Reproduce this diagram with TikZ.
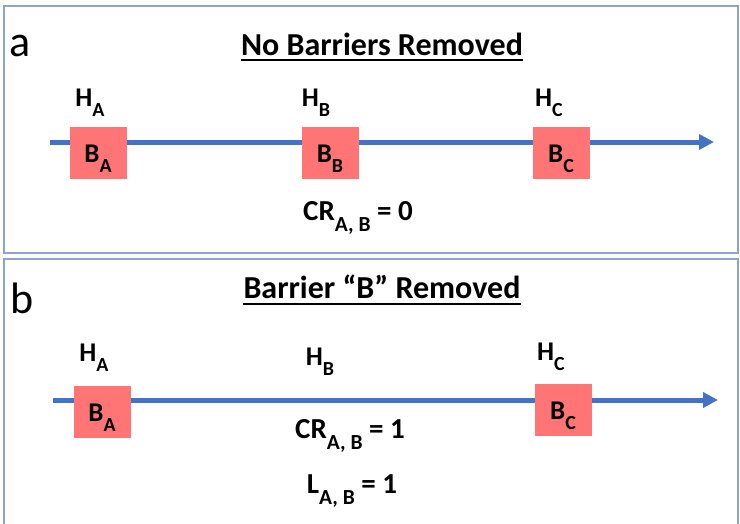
\documentclass[tikz,border=0pt]{standalone}
\usepackage{fontspec}
\usepackage{graphicx}
\setmainfont{Carlito}
\usetikzlibrary{arrows.meta}
\definecolor{lineblue}{HTML}{4472C4}
\definecolor{boxred}{HTML}{FF7575}
\definecolor{framecol}{HTML}{8FA2CB}
\newcommand{\sbx}[1]{\raisebox{-0.38em}{\scalebox{0.74}{#1}}}
\tikzset{
  frame/.style={draw=framecol, line width=1.2pt},
  panellabel/.style={inner sep=0pt, font=\fontsize{44}{48}\selectfont},
  titletext/.style={inner sep=0pt, font=\bfseries\fontsize{32}{36}\selectfont},
  hlabel/.style={inner sep=0pt, font=\bfseries\fontsize{27}{30}\selectfont},
  eqlabel/.style={inner sep=0pt, font=\bfseries\fontsize{29}{32}\selectfont},
  barrier/.style={fill=boxred, draw=none, minimum width=57pt, minimum height=52pt, inner sep=0pt},
  blabel/.style={inner sep=0pt, font=\bfseries\fontsize{27}{30}\selectfont},
  axis/.style={draw=lineblue, line width=5pt, -{Triangle[length=15pt,width=15pt]}},
  uline/.style={line width=1.6pt, black}
}
\begin{document}
\begin{tikzpicture}[x=1pt,y=-1pt]
\useasboundingbox (0,0) rectangle (740,523);
% ---------- panel a ----------
\draw[frame] (4,6) rectangle (738,253);
\node[panellabel] (pa) at (20,46) {a};
\node[titletext] (ta) at (382,44) {No Barriers Removed};
\draw[uline] ([yshift=-5pt]ta.base west) -- ([yshift=-5pt]ta.base east);
\coordinate (a0) at (50,142);
\coordinate (a1) at (714,142);
\draw[axis] (a0) -- (a1);
\node[barrier] (bxa) at (98,153) {};
\node[barrier] (bxb) at (330,153) {};
\node[barrier] (bxc) at (561,153) {};
\node[blabel] (lba) at (98,159) {B\sbx{A}};
\node[blabel] (lbb) at (330,159) {B\sbx{B}};
\node[blabel] (lbc) at (561,159) {B\sbx{C}};
\node[hlabel] (hA) at (90,103) {H\sbx{A}};
\node[hlabel] (hB) at (316,103) {H\sbx{B}};
\node[hlabel] (hC) at (549,103) {H\sbx{C}};
\node[eqlabel] (cra) at (358,218) {CR\sbx{A, B} = 0};
% ---------- panel b ----------
\draw[frame] (738,530) -- (738,259) -- (4,259) -- (4,530);
\node[panellabel] (pb) at (22,298) {b};
\node[titletext] (tb) at (382,287) {Barrier “B” Removed};
\draw[uline] ([yshift=-5pt]tb.base west) -- ([yshift=-5pt]tb.base east);
\coordinate (b0) at (53,400);
\coordinate (b1) at (718,400);
\draw[axis] (b0) -- (b1);
\node[barrier] (bya) at (102,412) {};
\node[barrier] (byc) at (563,410) {};
\node[blabel] (mba) at (102,418) {B\sbx{A}};
\node[blabel] (mbc) at (563,416) {B\sbx{C}};
\node[hlabel] (gA) at (94,358) {H\sbx{A}};
\node[hlabel] (gB) at (320,362) {H\sbx{B}};
\node[hlabel] (gC) at (551,357) {H\sbx{C}};
\node[eqlabel] (crb) at (350,436) {CR\sbx{A, B} = 1};
\node[eqlabel] (lb) at (352,491) {L\sbx{A, B} = 1};
\end{tikzpicture}
\end{document}
